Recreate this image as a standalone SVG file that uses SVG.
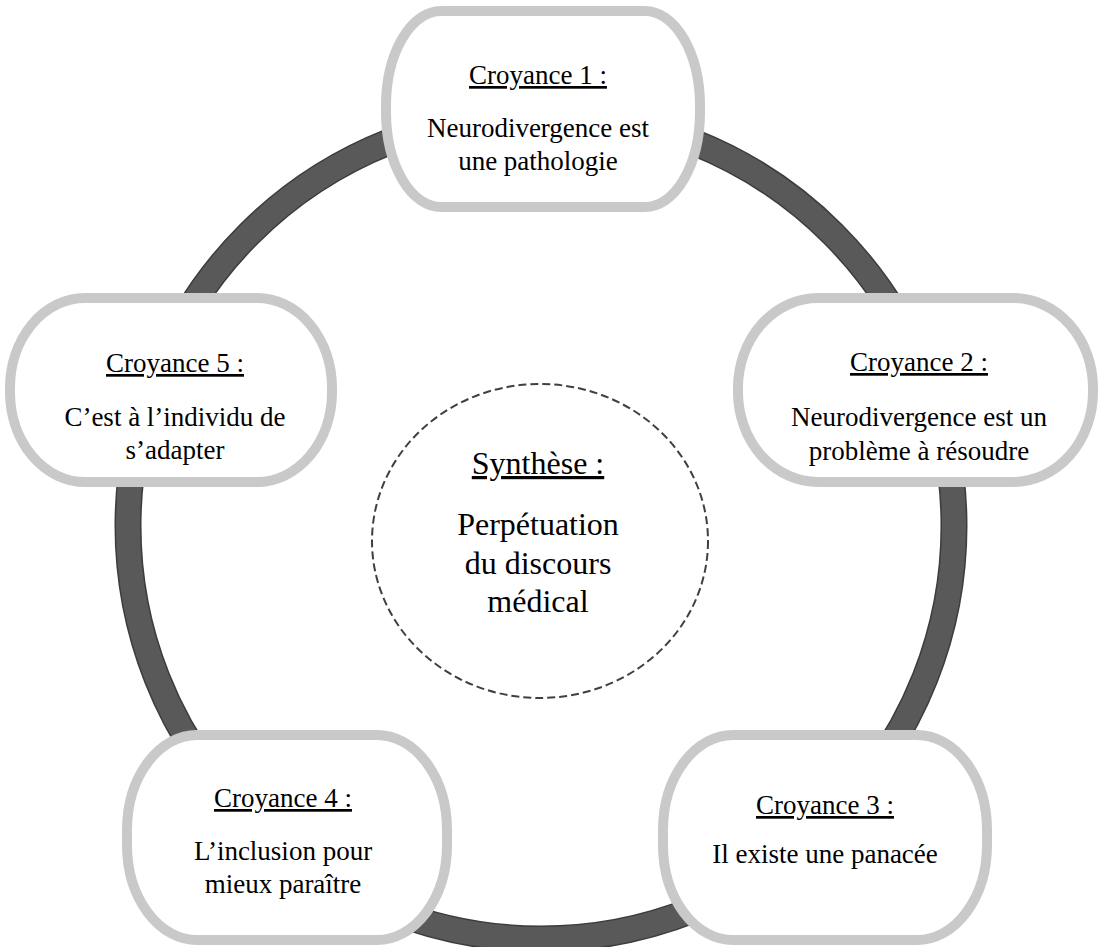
<svg xmlns="http://www.w3.org/2000/svg" width="1101" height="947" viewBox="0 0 1101 947">
<style>
.node rect{fill:#fff;stroke:#c9c9c9;stroke-width:10}
text{font-family:"Liberation Serif","Times New Roman",serif;font-size:27px;fill:#000;text-anchor:middle}
.u{text-decoration:underline}
.big{font-size:32px}
</style>
<rect width="1101" height="947" fill="#fff"/>
<g id="connectors">
<circle cx="541" cy="526" r="413" fill="none" stroke="#3c3c3c" stroke-width="27"/>
<circle cx="541" cy="526" r="413" fill="none" stroke="#595959" stroke-width="24"/>
</g>
<g id="center">
<ellipse cx="540" cy="541" rx="168" ry="157" fill="#fff" stroke="#404040" stroke-width="2" stroke-dasharray="8,4"/>
<text class="big u" x="538" y="474">Synthèse :</text>
<text class="big" x="538" y="535">Perpétuation</text>
<text class="big" x="538" y="574">du discours</text>
<text class="big" x="538" y="612">médical</text>
</g>
<g id="node1" class="node">
<rect x="386" y="11" width="314" height="196" rx="55" ry="95"/>
<text class="u" x="538" y="84">Croyance 1 :</text>
<text x="538" y="137">Neurodivergence est</text>
<text x="538" y="170">une pathologie</text>
</g>
<g id="node2" class="node">
<rect x="738" y="298" width="355" height="184" rx="80" ry="90"/>
<text class="u" x="919" y="371">Croyance 2 :</text>
<text x="919" y="426">Neurodivergence est un</text>
<text x="919" y="460">problème à résoudre</text>
</g>
<g id="node3" class="node">
<rect x="663" y="735" width="324" height="205" rx="70" ry="95"/>
<text class="u" x="825" y="814">Croyance 3 :</text>
<text x="825" y="863">Il existe une panacée</text>
</g>
<g id="node4" class="node">
<rect x="127" y="735" width="320" height="205" rx="70" ry="95"/>
<text class="u" x="283" y="807">Croyance 4 :</text>
<text x="283" y="860">L’inclusion pour</text>
<text x="283" y="893">mieux paraître</text>
</g>
<g id="node5" class="node">
<rect x="10" y="298" width="322" height="184" rx="75" ry="90"/>
<text class="u" x="175" y="372">Croyance 5 :</text>
<text x="175" y="426">C’est à l’individu de</text>
<text x="175" y="459">s’adapter</text>
</g>
</svg>
